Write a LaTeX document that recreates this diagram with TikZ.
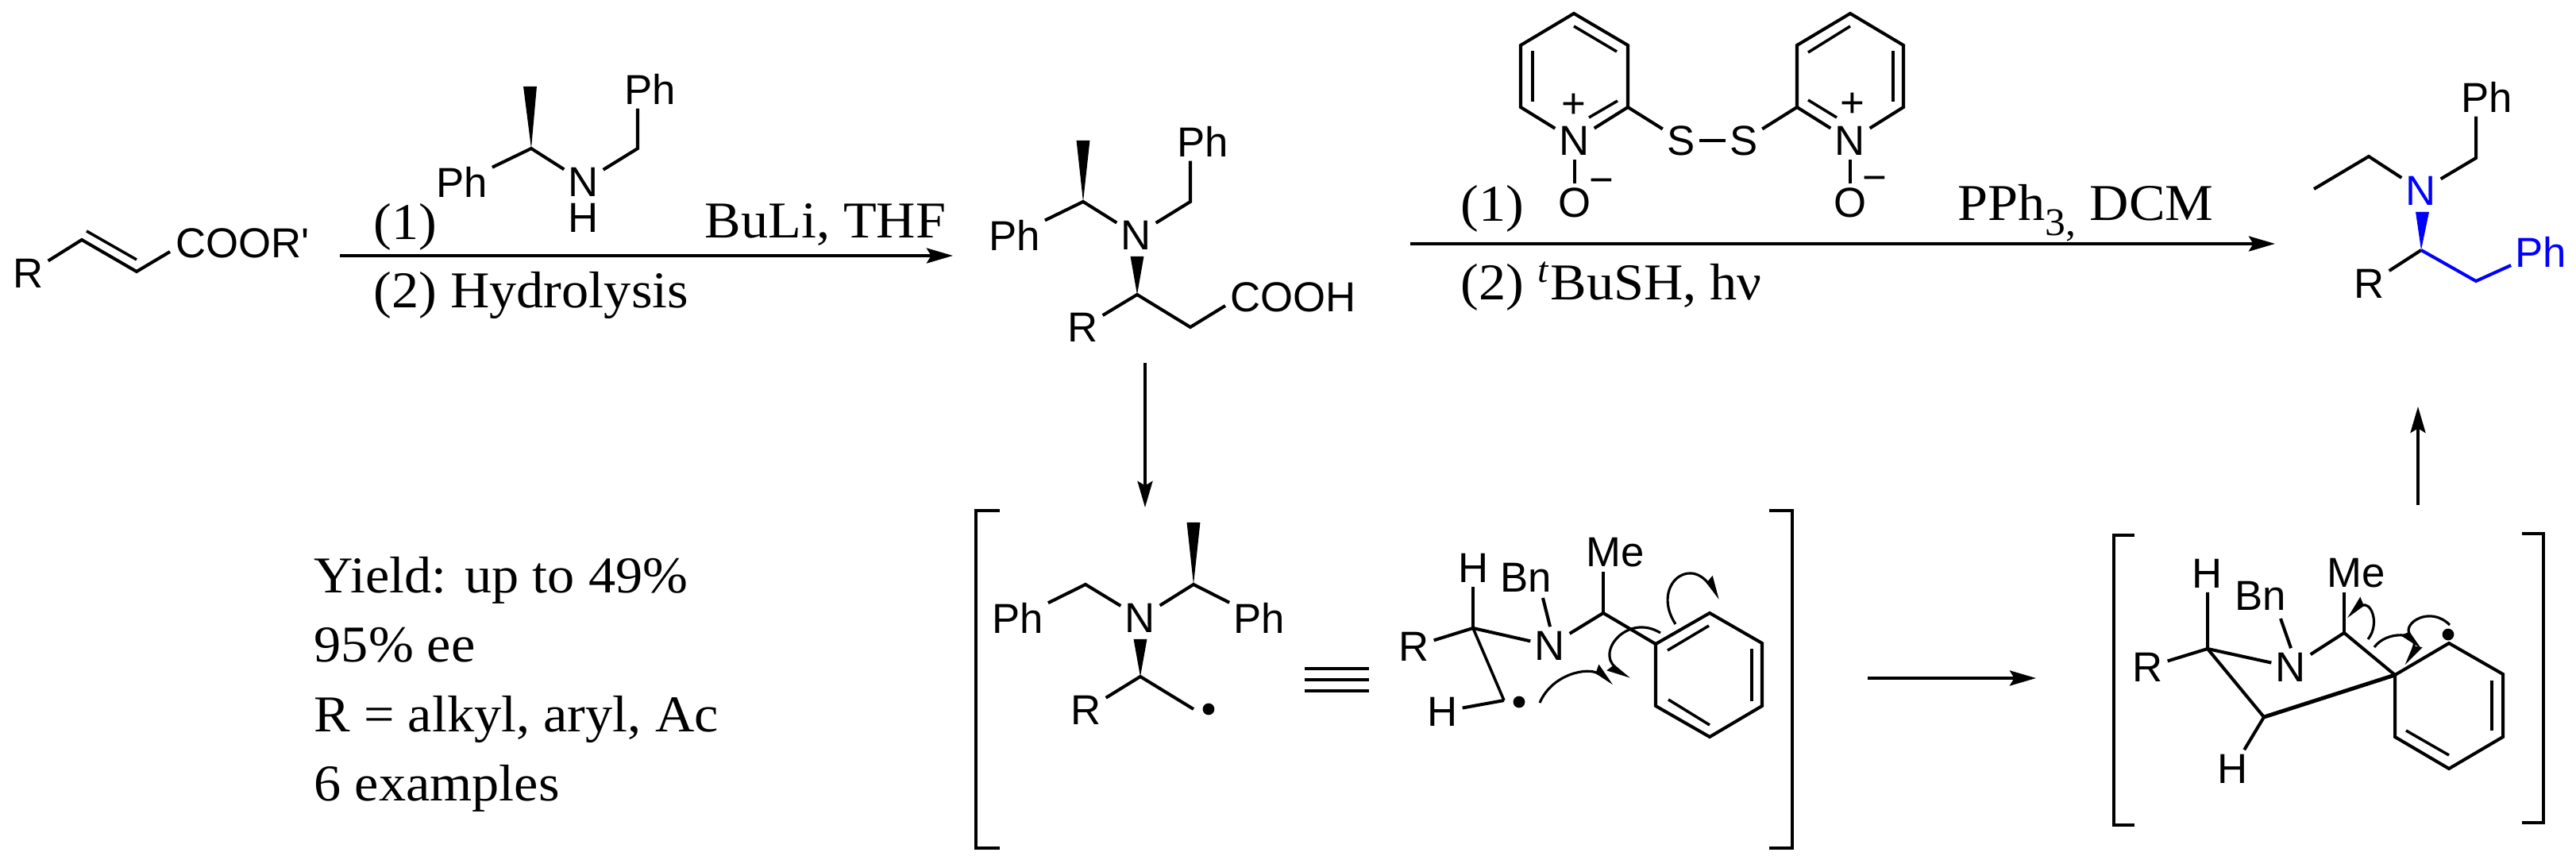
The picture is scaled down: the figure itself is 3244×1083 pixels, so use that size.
\documentclass[tikz,border=0pt]{standalone}
\usepackage{fontspec}
\setmainfont[FakeStretch=1.05]{Liberation Serif}
\newfontfamily\atomfont{Liberation Sans}
\usetikzlibrary{arrows.meta}
\tikzset{
  atom/.style={font=\atomfont\fontsize{15}{18}\selectfont, inner sep=1.4pt},
  txt/.style={font=\fontsize{18.5}{22}\selectfont, inner sep=0pt, anchor=base west},
  bond/.style={line width=1.15pt},
  thinbond/.style={line width=1pt},
  wedgebond/.style={fill, draw=none},
  radical/.style={circle, fill, inner sep=0pt, minimum size=4.2pt},
  rxn/.style={line width=1.1pt, -{Stealth[length=9.4pt, width=5.4pt, inset=1.6pt]}},
  pushl/.style={line width=.9pt, -{Stealth[harpoon, length=7pt, width=5.6pt, inset=.6pt]}},
  pushr/.style={line width=.9pt, -{Stealth[harpoon, swap, length=7pt, width=5.6pt, inset=.6pt]}},
}
\begin{document}
\begin{tikzpicture}[x=.01cm, y=-.01cm]
\useasboundingbox (0,0) rectangle (3244,1083);
% starting ester
\node[atom] (es0) at (36,344){R};
\coordinate (es1) at (103,302);
\coordinate (es2) at (172,342);
\coordinate (es3) at (109,291);
\coordinate (es4) at (172,327);
\node[atom, anchor=west, inner sep=0pt] (es5) at (221,306){COOR'};
\coordinate (es6) at (214,317);
\draw[bond](es0) -- (es1) -- (es2) -- (es6);
\draw[thinbond](es3) -- (es4);
% amine
\node[atom] (am0) at (582,229){Ph};
\coordinate (am1) at (669,187);
\coordinate (am2) at (667.5,109);
\node[atom] (am3) at (735,229){N};
\node[atom, inner sep=0pt] (am4) at (735,274){H};
\coordinate (am5) at (803,187);
\node[atom] (am6) at (819,112){Ph};
\fill[wedgebond] (am1) -- ([xshift=-2.4pt]am2) -- ([xshift=2.4pt]am2) -- cycle;
\draw[bond](am0) -- (am1) -- (am3);
\draw[bond](am3) -- (am5) -- (am5 |- am6.south);
% acid
\node[atom] (ac0) at (1278,296){Ph};
\coordinate (ac1) at (1364,254);
\coordinate (ac2) at (1364,177);
\node[atom] (ac3) at (1431,296){N};
\coordinate (ac4) at (1499,254);
\node[atom] (ac5) at (1515,178){Ph};
\coordinate (ac6) at (1432,323);
\coordinate (ac7) at (1432,371);
\node[atom] (ac8) at (1364,412){R};
\coordinate (ac9) at (1499,412);
\node[atom, anchor=west, inner sep=0pt] (ac10) at (1549,374){COOH};
\coordinate (ac11) at (1543,385);
\fill[wedgebond] (ac1) -- ([xshift=-2.4pt]ac2) -- ([xshift=2.4pt]ac2) -- cycle;
\fill[wedgebond] (ac7) -- ([xshift=-2.4pt]ac6) -- ([xshift=2.4pt]ac6) -- cycle;
\draw[bond](ac0) -- (ac1) -- (ac3);
\draw[bond](ac3) -- (ac4) -- (ac4 |- ac5.south);
\draw[bond](ac8) -- (ac7) -- (ac9) -- (ac11);
% disulfide
\coordinate (py0) at (1982,17);
\coordinate (py1) at (1915,57);
\coordinate (py2) at (1915,135);
\node[atom] (py3) at (1983,177){N};
\coordinate (py4) at (2050,135);
\coordinate (py5) at (2050,57);
\node[atom] (py6) at (1983,255){O};
\node[atom] (py7) at (1982,133){+};
\node[atom] (py8) at (2017,235){−};
\node[atom] (py9) at (2117,177){S};
\node[atom] (py10) at (2196,177){S};
\coordinate (py11) at (2263,135);
\coordinate (py12) at (2263,57);
\coordinate (py13) at (2330,17);
\coordinate (py14) at (2397,57);
\coordinate (py15) at (2397,135);
\node[atom] (py16) at (2330,177){N};
\node[atom] (py17) at (2330,255){O};
\node[atom] (py18) at (2333,132){+};
\node[atom] (py19) at (2361,232){−};
\draw[bond](py3) -- (py2) -- (py1) -- (py0) -- (py5) -- (py4) -- (py3);
\draw[bond](py3) -- (py6);
\draw[bond](py4) -- (py9);
\draw[bond](py9) -- (py10);
\draw[bond](py10) -- (py11);
\draw[bond](py11) -- (py16);
\draw[bond](py11) -- (py12) -- (py13) -- (py14) -- (py15) -- (py16);
\draw[bond](py16) -- (py17);
\coordinate (py20) at (1930,64);
\coordinate (py21) at (1930,128);
\coordinate (py22) at (1982,33);
\coordinate (py23) at (2036,65);
\coordinate (py24) at (2001,148);
\coordinate (py25) at (2037,127);
\coordinate (py26) at (2277,66);
\coordinate (py27) at (2330,33);
\coordinate (py28) at (2384,64);
\coordinate (py29) at (2384,128);
\coordinate (py30) at (2277,126);
\coordinate (py31) at (2313,148);
\draw[thinbond](py20) -- (py21);
\draw[thinbond](py22) -- (py23);
\draw[thinbond](py24) -- (py25);
\draw[thinbond](py26) -- (py27);
\draw[thinbond](py28) -- (py29);
\draw[thinbond](py30) -- (py31);
% product
\coordinate (pd0) at (2914,238);
\coordinate (pd1) at (2983,197);
\node[atom, blue] (pd2) at (3049,240){N};
\coordinate (pd3) at (3118,199);
\node[atom] (pd4) at (3132,122){Ph};
\coordinate (pd5) at (3050.5,267);
\coordinate (pd6) at (3049,315);
\node[atom] (pd7) at (2984,357){R};
\coordinate (pd8) at (3118,354);
\node[atom, blue] (pd9) at (3200,317){Ph};
\draw[bond](pd0) -- (pd1) -- (pd2);
\draw[bond](pd2) -- (pd3) -- (pd3 |- pd4.south);
\fill[wedgebond, blue] (pd6) -- ([xshift=-2.4pt]pd5) -- ([xshift=2.4pt]pd5) -- cycle;
\draw[bond](pd7) -- (pd6);
\draw[bond, blue](pd6) -- (pd8) -- (pd9);
% radical, flat drawing
\node[atom] (ra0) at (1282,778){Ph};
\coordinate (ra1) at (1367,736);
\node[atom] (ra2) at (1436,778){N};
\coordinate (ra3) at (1503,736);
\coordinate (ra4) at (1503,658);
\node[atom] (ra5) at (1586,778){Ph};
\coordinate (ra6) at (1436,805);
\coordinate (ra7) at (1436,852);
\node[atom] (ra8) at (1368,894){R};
\coordinate (ra9) at (1503,893);
\node[radical] (ra10) at (1522,893){};
\fill[wedgebond] (ra3) -- ([xshift=-2.4pt]ra4) -- ([xshift=2.4pt]ra4) -- cycle;
\fill[wedgebond] (ra7) -- ([xshift=-2.4pt]ra6) -- ([xshift=2.4pt]ra6) -- cycle;
\draw[bond](ra0) -- (ra1) -- (ra2);
\draw[bond](ra2) -- (ra3) -- (ra5);
\draw[bond](ra8) -- (ra7) -- (ra9);
\foreach \i in {842,856,870}
  \draw[bond] (1643,\i) -- (1724,\i);
% radical, chair drawing
\node[atom] (rb0) at (1856,715){H};
\coordinate (rb1) at (1855,791);
\node[atom] (rb2) at (1781,814){R};
\node[atom] (rb3) at (1952,813){N};
\node[atom] (rb4) at (1922,727){Bn};
\coordinate (rb5) at (2019,772);
\node[atom] (rb6) at (2034,696){Me};
\coordinate (rb7) at (1894,882);
\node[atom] (rb8) at (1817,896){H};
\node[radical] (rb9) at (1913,884){};
\coordinate (rb10) at (2085,811);
\coordinate (rb11) at (2153,772);
\coordinate (rb12) at (2219,810);
\coordinate (rb13) at (2219,889);
\coordinate (rb14) at (2153,928);
\coordinate (rb15) at (2085,889);
\coordinate (rb22) at (1943,753);
\draw[bond](rb1 |- rb0.south) -- (rb1);
\draw[bond](rb2) -- (rb1) -- (rb3);
\draw[bond](rb22) -- (rb3.north);
\draw[bond](rb3) -- (rb5) -- (rb10);
\draw[bond](rb5 |- rb6.south) -- (rb5);
\draw[thinbond](rb1) -- (rb7);
\draw[bond](rb7) -- (rb8);
\draw[bond](rb10) -- (rb11) -- (rb12) -- (rb13) -- (rb14) -- (rb15) -- cycle;
\coordinate (rb16) at (2100,819);
\coordinate (rb17) at (2152,788);
\coordinate (rb18) at (2206,817);
\coordinate (rb19) at (2206,883);
\coordinate (rb20) at (2101,881);
\coordinate (rb21) at (2153,913);
\draw[thinbond](rb16) -- (rb17);
\draw[thinbond](rb18) -- (rb19);
\draw[thinbond](rb20) -- (rb21);
\draw[pushl] (1939,885) .. controls (1955,848) and (2000,840) .. (2032,861);
\draw[pushr] (2091,797) .. controls (2050,772) and (2010,820) .. (2052,855);
\draw[pushl] (2110,786) .. controls (2080,740) and (2125,700) .. (2166,754);
% cyclised radical
\node[atom] (rc0) at (2705,840){R};
\coordinate (rc1) at (2780,817);
\node[atom] (rc2) at (2780,722){H};
\node[atom] (rc3) at (2885,840){N};
\node[atom] (rc4) at (2847,750){Bn};
\coordinate (rc5) at (2952,797);
\node[atom] (rc6) at (2967,722){Me};
\coordinate (rc7) at (3016,850);
\coordinate (rc8) at (2851,903);
\node[atom] (rc9) at (2812,968){H};
\coordinate (rc10) at (3084,810);
\coordinate (rc11) at (3152,849);
\coordinate (rc12) at (3152,928);
\coordinate (rc13) at (3084,968);
\coordinate (rc14) at (3016,928);
\node[radical] (rc15) at (3083,799){};
\coordinate (rc20) at (2872,779);
\draw[bond](rc0) -- (rc1) -- (rc3);
\draw[bond](rc1 |- rc2.south) -- (rc1) -- (rc8);
\draw[line width=1.4pt](rc8) -- (rc7);
\draw[bond](rc20) -- (rc3.north);
\draw[bond](rc3) -- (rc5) -- (rc7);
\draw[bond](rc5 |- rc6.south) -- (rc5);
\draw[bond](rc8) -- (rc9);
\draw[bond](rc7) -- (rc10) -- (rc11) -- (rc12) -- (rc13) -- (rc14) -- cycle;
\coordinate (rc16) at (3138,857);
\coordinate (rc17) at (3138,920);
\coordinate (rc18) at (3030,920);
\coordinate (rc19) at (3084,951);
\draw[thinbond](rc16) -- (rc17);
\draw[thinbond](rc18) -- (rc19);
\draw[pushr] (2982,805) .. controls (2998,785) and (2985,755) .. (2955,777);
\draw[pushl] (2990,815) .. controls (3005,794) and (3048,795) .. (3030,838);
\draw[pushr] (3085,787) .. controls (3060,762) and (3025,785) .. (3048,818);
% brackets
\draw[bond] (1259,643) -- (1229,643) -- (1229,1068) -- (1259,1068);
\draw[bond] (2228,643) -- (2257,643) -- (2257,1068) -- (2228,1068);
\draw[bond] (2688,674) -- (2662,674) -- (2662,1039) -- (2688,1039);
\draw[bond] (3176,672) -- (3203,672) -- (3203,1036) -- (3176,1036);
% reaction arrows
\coordinate (ar0) at (428,322);
\coordinate (ar1) at (1200,322);
\coordinate (ar2) at (1776,307);
\coordinate (ar3) at (2865,307);
\coordinate (ar4) at (1442,457);
\coordinate (ar5) at (1442,639);
\coordinate (ar6) at (2352,854);
\coordinate (ar7) at (2564,854);
\coordinate (ar8) at (3045,636);
\coordinate (ar9) at (3045,512);
\draw[rxn](ar0) -- (ar1);
\draw[rxn](ar2) -- (ar3);
\draw[rxn](ar4) -- (ar5);
\draw[rxn](ar6) -- (ar7);
\draw[rxn](ar8) -- (ar9);
% conditions
\node[txt] (tx0) at (470,302){(1)};
\node[txt] (tx1) at (470,388){(2) Hydrolysis};
\node[txt] (tx2) at (887,300){BuLi, THF};
\node[txt] (tx3) at (1839,279){(1)};
\node[txt] (tx4) at (1839,378){(2) \textsuperscript{\textit{t}}BuSH, hν};
\node[txt] (tx5) at (2465,278){PPh\raisebox{-5.4pt}{\fontsize{14}{16}\selectfont 3,} DCM};
\node[txt] (tx6) at (395,747){Yield: up to 49\%};
\node[txt] (tx7) at (395,834){95\% ee};
\node[txt] (tx8) at (395,922){R = alkyl, aryl, Ac};
\node[txt] (tx9) at (395,1009){6 examples};
\end{tikzpicture}
\end{document}
